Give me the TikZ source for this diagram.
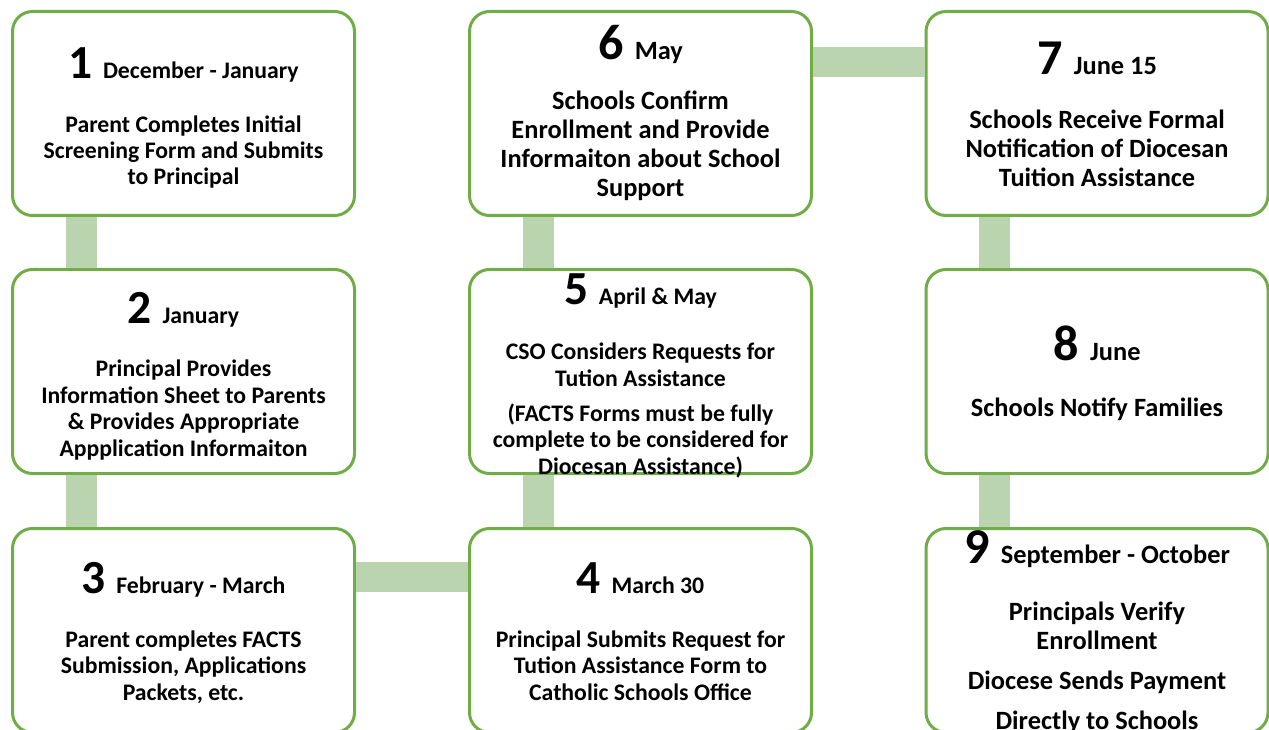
\documentclass[tikz,border=0pt]{standalone}
\usepackage{fontspec}
\setmainfont{Carlito}
\usetikzlibrary{calc}

\definecolor{stepgreen}{RGB}{112,173,71}
\definecolor{linkgreen}{RGB}{187,212,176}

\newcommand\numA[1]{{\fontsize{35.6}{36}\selectfont #1 }}
\newcommand\numB[1]{{\fontsize{37.6}{38}\selectfont #1 }}

\tikzset{every picture/.style={line width=0.75pt}}
\tikzset{
  stepbox/.style={draw=stepgreen, line width=2.25pt, rounded corners=15pt, fill=white,
    minimum width=256.5pt, minimum height=153pt, inner sep=0pt},
  vlink/.style={draw=linkgreen, line width=23.25pt},
  hlink/.style={draw=linkgreen, line width=22.5pt},
  textA/.style={font=\bfseries\fontsize{17.8}{19.8}\selectfont, align=center, inner sep=0pt, anchor=base},
  textB/.style={font=\bfseries\fontsize{19.8}{21.9}\selectfont, align=center, inner sep=0pt, anchor=base},
}

\begin{document}
\begin{tikzpicture}[x=0.75pt,y=0.75pt,yscale=-1,xscale=1]
\useasboundingbox (0,0) rectangle (1269,730);

%Shape: Rounded Rect [id:step boxes]
\node[stepbox] (s1) at (183.5,113.5) {};
\node[stepbox] (s2) at (183.5,371.5) {};
\node[stepbox] (s3) at (183.5,630.5) {};
\node[stepbox] (s4) at (640.5,630.5) {};
\node[stepbox] (s5) at (640.5,371.5) {};
\node[stepbox] (s6) at (640.5,113.5) {};
\node[stepbox] (s7) at (1097,113.5) {};
\node[stepbox] (s8) at (1097,371.5) {};
\node[stepbox] (s9) at (1097,630.5) {};

%Straight Lines [id:links]
\draw[vlink] ($(s1.south west)+(70.5,0)$) -- ($(s2.north west)+(70.5,0)$);
\draw[vlink] ($(s2.south west)+(70.5,0)$) -- ($(s3.north west)+(70.5,0)$);
\draw[hlink] ($(s3.north east)+(0,50)$) -- ($(s4.north west)+(0,50)$);
\draw[vlink] ($(s4.north west)+(70.5,0)$) -- ($(s5.south west)+(70.5,0)$);
\draw[vlink] ($(s5.north west)+(70.5,0)$) -- ($(s6.south west)+(70.5,0)$);
\draw[hlink] ($(s6.north east)+(0,52)$) -- ($(s7.north west)+(0,52)$);
\draw[vlink] ($(s7.south west)+(70,0)$) -- ($(s8.north west)+(70,0)$);
\draw[vlink] ($(s8.south west)+(70,0)$) -- ($(s9.north west)+(70,0)$);

% Text Node (body nodes sit on the baseline of their last line)
\node[textA] (h1) at (183.5,79) {\numA{1}December - January};
\node[textA] (b1) at (183.5,185) {Parent Completes Initial\\Screening Form and Submits\\to Principal};
% Text Node
\node[textA] (h2) at (183.5,324) {\numA{2}January};
\node[textA] (b2) at (183.5,456) {Principal Provides\\Information Sheet to Parents\\\& Provides Appropriate\\Appplication Informaiton};
% Text Node
\node[textA] (h3) at (183.5,593) {\numA{3}February - March};
\node[textA] (b3) at (183.5,700) {Parent completes FACTS\\Submission, Applications\\Packets, etc.};
% Text Node
\node[textA] (h4) at (640.5,593) {\numA{4}March 30};
\node[textA] (b4) at (640.5,700) {Principal Submits Request for\\Tution Assistance Form to\\Catholic Schools Office};
% Text Node
\node[textA] (h5) at (640.5,305) {\numA{5}April \& May};
\node[textA] (b5) at (640.5,474) {CSO Considers Requests for\\Tution Assistance\\[6.5pt](FACTS Forms must be fully\\complete to be considered for\\Diocesan Assistance)};
% Text Node
\node[textB] (h6) at (640.5,60) {\numB{6}May};
\node[textB] (b6) at (640.5,197) {Schools Confirm\\Enrollment and Provide\\Informaiton about School\\Support};
% Text Node
\node[textB] (h7) at (1097,75) {\numB{7}June 15};
\node[textB] (b7) at (1097,187) {Schools Receive Formal\\Notification of Diocesan\\Tuition Assistance};
% Text Node
\node[textB] (h8) at (1097,361) {\numB{8}June};
\node[textB] (b8) at (1097,416) {Schools Notify Families};
% Text Node
\node[textB] (h9) at (1097,563) {\numB{9}September - October};
\node[textB] (b9) at (1097,729) {Principals Verify\\Enrollment\\[8pt]Diocese Sends Payment\\[8pt]Directly to Schools};

\end{tikzpicture}
\end{document}
